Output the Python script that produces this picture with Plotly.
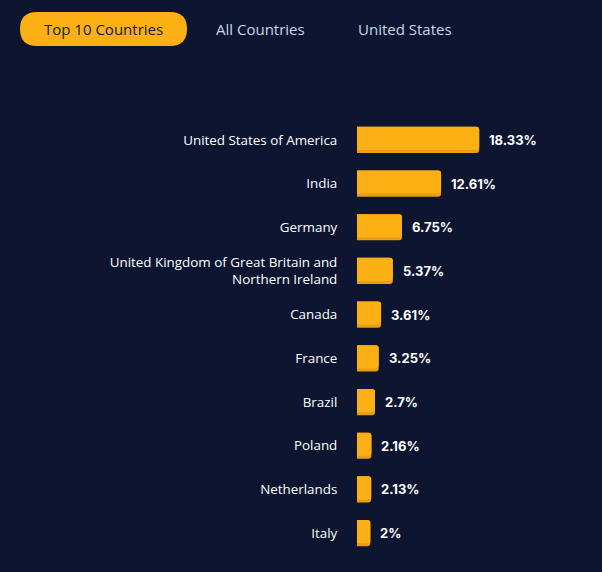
import plotly.graph_objects as go

# Data
countries = [
    "United States of America",
    "India",
    "Germany",
    "United Kingdom of Great Britain and<br>Northern Ireland",
    "Canada",
    "France",
    "Brazil",
    "Poland",
    "Netherlands",
    "Italy",
]
shares = [18.33, 12.61, 6.75, 5.37, 3.61, 3.25, 2.7, 2.16, 2.13, 2.0]
share_labels = ["18.33%", "12.61%", "6.75%", "5.37%", "3.61%", "3.25%", "2.7%", "2.16%", "2.13%", "2%"]
tabs = ["Top 10 Countries", "All Countries", "United States"]

BG = "#0d1530"
GOLD = "#fdb013"
GOLD_DARK = "#e89e10"

W, H = 602, 572
L, R, T, B = 357, 45, 118, 17


def px_x(px):
    return (px - L) / (W - L - R)


def px_y(py):
    return (H - B - py) / (H - T - B)


def pill(x0, y0, x1, y1, r):
    # rounded rectangle path in paper coords, built from pixel positions
    pts = [
        f"M {px_x(x0 + r)} {px_y(y0)}",
        f"L {px_x(x1 - r)} {px_y(y0)}",
        f"Q {px_x(x1)} {px_y(y0)} {px_x(x1)} {px_y(y0 + r)}",
        f"L {px_x(x1)} {px_y(y1 - r)}",
        f"Q {px_x(x1)} {px_y(y1)} {px_x(x1 - r)} {px_y(y1)}",
        f"L {px_x(x0 + r)} {px_y(y1)}",
        f"Q {px_x(x0)} {px_y(y1)} {px_x(x0)} {px_y(y1 - r)}",
        f"L {px_x(x0)} {px_y(y0 + r)}",
        f"Q {px_x(x0)} {px_y(y0)} {px_x(x0 + r)} {px_y(y0)}",
        "Z",
    ]
    return " ".join(pts)


fig = go.Figure()

# darker base gives the shaded bottom edge
fig.add_trace(go.Bar(
    x=shares, y=countries, orientation="h",
    width=0.6, offset=-0.3,
    marker=dict(color=GOLD_DARK, cornerradius=3, line_width=0),
    hoverinfo="skip",
))
fig.add_trace(go.Bar(
    x=shares, y=countries, orientation="h",
    width=0.53, offset=-0.3,
    marker=dict(color=GOLD, cornerradius=3, line_width=0),
    hovertemplate="%{y}: %{x}%<extra></extra>",
))

# value labels next to bar ends
for c, v, lab in zip(countries, shares, share_labels):
    fig.add_annotation(x=v, y=c, text=lab, showarrow=False,
                       xanchor="left", yanchor="middle", xshift=8,
                       font=dict(family="Inter", size=13, color="#ffffff", weight="bold"))

fig.update_layout(
    width=W, height=H,
    barmode="overlay",
    showlegend=False,
    paper_bgcolor=BG, plot_bgcolor=BG,
    margin=dict(l=L, r=R, t=T, b=B, autoexpand=False),
    xaxis=dict(range=[0, 30], visible=False, showgrid=False),
    yaxis=dict(
        autorange="reversed", showgrid=False, zeroline=False,
        ticks="outside", ticklen=16, tickcolor=BG,
        tickfont=dict(family="Open Sans", size=13.4, color="#ffffff"),
    ),
    font=dict(family="Open Sans"),
)

# tabs
fig.add_shape(type="path", xref="paper", yref="paper",
              path=pill(20, 12, 187, 46, 17),
              fillcolor=GOLD, line_width=0, layer="above")
tab_centers = [103, 260, 405]
tab_colors = ["#101a33", "#c9d6e3", "#c9d6e3"]
for label, cx, col in zip(tabs, tab_centers, tab_colors):
    fig.add_annotation(text=label, xref="paper", yref="paper",
                       x=px_x(cx), y=px_y(29), showarrow=False,
                       xanchor="center", yanchor="middle",
                       font=dict(family="Open Sans", size=15, color=col))

fig.write_html(
    "out.html",
    config={"displayModeBar": False},
    post_script="document.body.style.margin='0';document.body.style.background='#0d1530';",
)
